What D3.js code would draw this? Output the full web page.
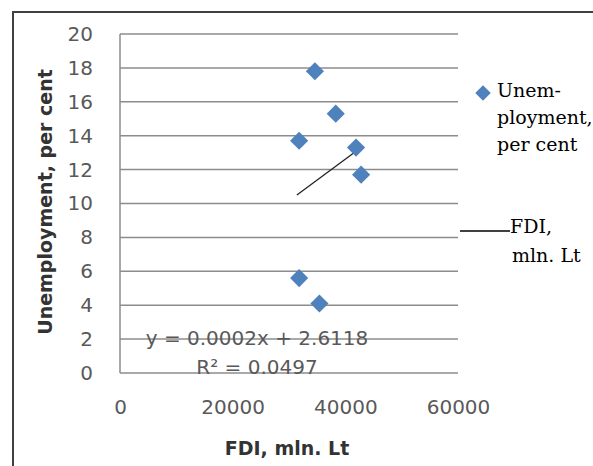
<!DOCTYPE html>
<html>
<head>
<meta charset="utf-8">
<script src="https://cdn.jsdelivr.net/npm/d3@7"></script>
<style>
  body { margin: 0; background: #fff; }
  svg { display: block; }
</style>
</head>
<body>
<div id="chart"></div>
<script>
// data
var fdi = [34600, 38300, 31800, 41900, 42800, 31800, 35400];
var unemployment = [17.8, 15.3, 13.7, 13.3, 11.7, 5.6, 4.1];
var trendX = [31400, 42800];
var trendY = [10.5, 13.3];
var yTicks = [0, 2, 4, 6, 8, 10, 12, 14, 16, 18, 20];
var xTicks = [0, 20000, 40000, 60000];
var legendLines = ["Unem-", "ployment,", "per cent"];
var fdiLegendLines = ["FDI,", "mln. Lt"];

var svgWidth = 593;
var svgHeight = 466;

var svg = d3.select("#chart")
  .append("svg")
  .attr("width", svgWidth)
  .attr("height", svgHeight);

// outer frame (runs off the right and bottom of the picture)
svg.append("rect")
  .attr("x", 13)
  .attr("y", 12)
  .attr("width", 600)
  .attr("height", 480)
  .attr("fill", "none")
  .attr("stroke", "#404040")
  .attr("stroke-width", 2);

var xScale = d3.scaleLinear()
  .domain([0, 60000])
  .range([120, 458]);

var yScale = d3.scaleLinear()
  .domain([0, 20])
  .range([373, 34]);

// gridlines
svg.append("g").selectAll("line")
  .data(yTicks)
  .enter()
  .append("line")
  .attr("x1", xScale(0))
  .attr("x2", xScale(60000))
  .attr("y1", d => yScale(d))
  .attr("y2", d => yScale(d))
  .attr("stroke", "#8c8c8c")
  .attr("stroke-width", 1.5);

// y axis line
svg.append("line")
  .attr("x1", xScale(0))
  .attr("x2", xScale(0))
  .attr("y1", yScale(0))
  .attr("y2", yScale(20))
  .attr("stroke", "#8c8c8c")
  .attr("stroke-width", 1.5);

var yAxis = d3.axisLeft(yScale)
  .tickValues(yTicks)
  .tickSize(0)
  .tickPadding(27);

var xAxis = d3.axisBottom(xScale)
  .tickValues(xTicks)
  .tickSize(0)
  .tickPadding(27)
  .tickFormat(d3.format("d"));

var yAxisG = svg.append("g")
  .attr("transform", `translate(${xScale(0)}, 0)`)
  .call(yAxis);

var xAxisG = svg.append("g")
  .attr("transform", `translate(0, ${yScale(0)})`)
  .call(xAxis);

[yAxisG, xAxisG].forEach(function(g) {
  g.select(".domain").remove();
  g.selectAll("text")
    .attr("font-family", "DejaVu Sans")
    .attr("font-size", "20px")
    .attr("fill", "#595959");
});

// trendline
svg.append("line")
  .attr("x1", xScale(trendX[0]))
  .attr("y1", yScale(trendY[0]))
  .attr("x2", xScale(trendX[1]))
  .attr("y2", yScale(trendY[1]))
  .attr("stroke", "#222")
  .attr("stroke-width", 1.3);

// diamonds
var diamond = d3.symbol().type(d3.symbolSquare).size(165);

svg.append("g").selectAll("path")
  .data(fdi)
  .enter()
  .append("path")
  .attr("d", diamond)
  .attr("transform", (d, i) => `translate(${xScale(d)}, ${yScale(unemployment[i])}) rotate(45)`)
  .attr("fill", "#4f81bd");

// trendline equation
svg.append("text")
  .attr("x", 257)
  .attr("y", 338)
  .attr("dy", "0.35em")
  .attr("text-anchor", "middle")
  .attr("font-family", "DejaVu Sans")
  .attr("font-size", "20px")
  .attr("fill", "#595959")
  .text("y = 0.0002x + 2.6118");

svg.append("text")
  .attr("x", 257)
  .attr("y", 367)
  .attr("dy", "0.35em")
  .attr("text-anchor", "middle")
  .attr("font-family", "DejaVu Sans")
  .attr("font-size", "20px")
  .attr("fill", "#595959")
  .text("R² = 0.0497");

// axis titles
svg.append("text")
  .attr("transform", "translate(45, 202) rotate(-90)")
  .attr("dy", "0.35em")
  .attr("text-anchor", "middle")
  .attr("font-family", "DejaVu Sans")
  .attr("font-size", "19px")
  .attr("font-weight", "bold")
  .attr("fill", "#333")
  .text("Unemployment, per cent");

svg.append("text")
  .attr("x", 287)
  .attr("y", 448)
  .attr("dy", "0.35em")
  .attr("text-anchor", "middle")
  .attr("font-family", "DejaVu Sans")
  .attr("font-size", "19px")
  .attr("font-weight", "bold")
  .attr("fill", "#333")
  .text("FDI, mln. Lt");

// legend
var legend = svg.append("g");

legend.append("path")
  .attr("d", d3.symbol().type(d3.symbolSquare).size(120))
  .attr("transform", "translate(483, 93) rotate(45)")
  .attr("fill", "#4f81bd");

legend.selectAll("text.unemp")
  .data(legendLines)
  .enter()
  .append("text")
  .attr("class", "unemp")
  .attr("x", 497)
  .attr("y", (d, i) => 97 + i * 27)
  .attr("font-family", "DejaVu Serif")
  .attr("font-size", "19px")
  .attr("fill", "#000")
  .text(d => d);

legend.append("line")
  .attr("x1", 460)
  .attr("x2", 510)
  .attr("y1", 231)
  .attr("y2", 231)
  .attr("stroke", "#000")
  .attr("stroke-width", 1.3);

legend.selectAll("text.fdi")
  .data(fdiLegendLines)
  .enter()
  .append("text")
  .attr("class", "fdi")
  .attr("x", (d, i) => i === 0 ? 510 : 512)
  .attr("y", (d, i) => 233 + i * 29)
  .attr("font-family", "DejaVu Serif")
  .attr("font-size", "19px")
  .attr("fill", "#000")
  .text(d => d);
</script>
</body>
</html>
